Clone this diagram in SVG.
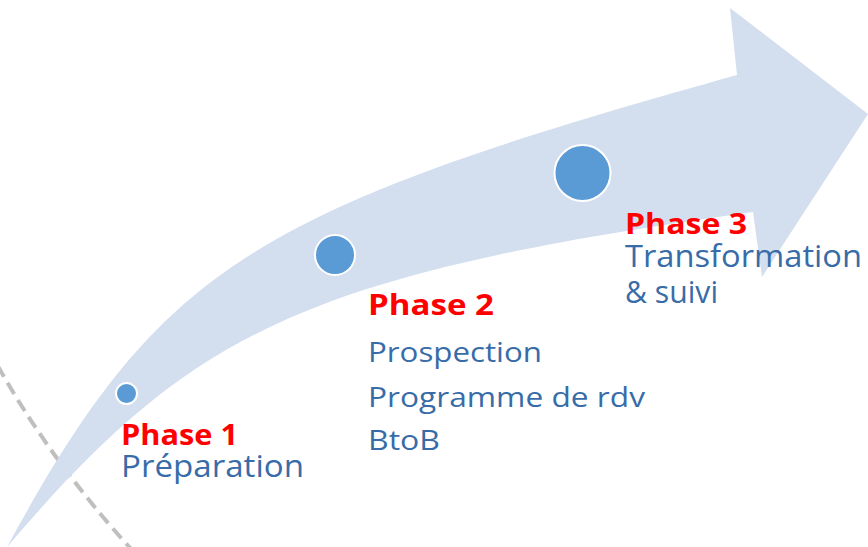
<svg xmlns="http://www.w3.org/2000/svg" width="868" height="547" viewBox="0 0 868 547">
  <style>
    .arrow { fill: #d3deef; }
    .dot { fill: #5b9bd5; stroke: #ffffff; stroke-width: 2; }
    .title { font-family: "Open Sans", "Liberation Sans", sans-serif; font-weight: bold; font-size: 29px; fill: #ff0000; }
    .body { font-family: "Open Sans", "Liberation Sans", sans-serif; font-size: 31px; fill: #386ca8; }
    .body2 { font-family: "Open Sans", "Liberation Sans", sans-serif; font-size: 28px; fill: #386ca8; }
    .dash { fill: none; stroke: #bfbfbf; stroke-width: 4; stroke-dasharray: 13 7; }
  </style>
  <rect width="868" height="547" fill="#ffffff"/>
  <g id="connectors">
    <path class="dash" d="M-12,348 Q45,455 132,550"/>
  </g>
  <g id="arrow">
    <path class="arrow" d="M7,547 C160,267 250,211 737,75 L730,8 L868,114 L762,277 L753,212 C300,275 190,333 7,547 Z"/>
  </g>
  <g id="phase1">
    <circle class="dot" cx="126.5" cy="393.5" r="10.5"/>
    <text class="title" x="121" y="445" textLength="117" lengthAdjust="spacingAndGlyphs">Phase 1</text>
    <text class="body" x="121" y="477" textLength="183" lengthAdjust="spacingAndGlyphs">Préparation</text>
  </g>
  <g id="phase2">
    <circle class="dot" cx="335" cy="255" r="20"/>
    <text class="title" x="368" y="315" textLength="126" lengthAdjust="spacingAndGlyphs">Phase 2</text>
    <text class="body2" x="368" y="362" textLength="174" lengthAdjust="spacingAndGlyphs">Prospection</text>
    <text class="body2" x="368" y="407" textLength="277" lengthAdjust="spacingAndGlyphs">Programme de rdv</text>
    <text class="body2" x="368" y="450" textLength="72" lengthAdjust="spacingAndGlyphs">BtoB</text>
  </g>
  <g id="phase3">
    <circle class="dot" cx="582.5" cy="173" r="28"/>
    <text class="title" x="625" y="234" textLength="122" lengthAdjust="spacingAndGlyphs">Phase 3</text>
    <text class="body" x="625" y="267" textLength="237" lengthAdjust="spacingAndGlyphs">Transformation</text>
    <text class="body" x="625" y="303" textLength="93" lengthAdjust="spacingAndGlyphs">&amp; suivi</text>
  </g>
</svg>
